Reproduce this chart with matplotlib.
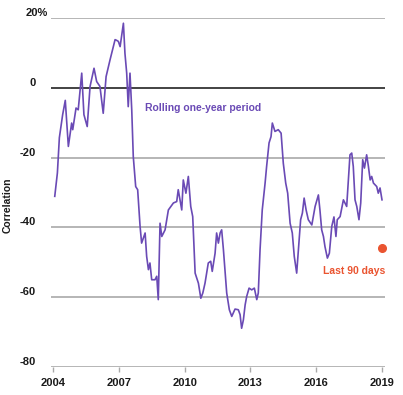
import matplotlib
matplotlib.use("Agg")
import matplotlib.pyplot as plt
from matplotlib.transforms import blended_transform_factory

plt.rcParams['font.family'] = ['Liberation Sans', 'DejaVu Sans']

# Rolling one-year correlation (%), decimal year vs value
years = [2004.08, 2004.20, 2004.29, 2004.44, 2004.56, 2004.70, 2004.85, 2004.90,
         2005.05, 2005.15, 2005.31, 2005.41, 2005.56, 2005.69, 2005.87, 2005.99,
         2006.14, 2006.29, 2006.42, 2006.60, 2006.75, 2006.83, 2006.90, 2006.98,
         2007.06, 2007.21, 2007.28, 2007.36, 2007.43, 2007.51, 2007.59, 2007.66,
         2007.77, 2007.86, 2007.97, 2008.04, 2008.20, 2008.27, 2008.35, 2008.42,
         2008.50, 2008.65, 2008.73, 2008.80, 2008.88, 2008.96, 2009.11, 2009.26,
         2009.49, 2009.64, 2009.71, 2009.87, 2009.94, 2010.06, 2010.17, 2010.28,
         2010.37, 2010.48, 2010.63, 2010.74, 2010.83, 2010.93, 2011.08, 2011.19,
         2011.26, 2011.39, 2011.46, 2011.54, 2011.62, 2011.69, 2011.77, 2011.92,
         2012.04, 2012.15, 2012.30, 2012.45, 2012.53, 2012.60, 2012.68, 2012.76,
         2012.83, 2012.94, 2013.06, 2013.18, 2013.29, 2013.36, 2013.44, 2013.54,
         2013.67, 2013.74, 2013.85, 2013.94, 2014.00, 2014.12, 2014.27, 2014.40,
         2014.50, 2014.61, 2014.70, 2014.81, 2014.91, 2015.00, 2015.11, 2015.22,
         2015.29, 2015.37, 2015.45, 2015.54, 2015.64, 2015.80, 2015.95, 2016.10,
         2016.17, 2016.25, 2016.33, 2016.40, 2016.51, 2016.60, 2016.71, 2016.81,
         2016.90, 2016.96, 2017.09, 2017.24, 2017.39, 2017.54, 2017.62, 2017.69,
         2017.77, 2017.85, 2017.95, 2018.03, 2018.12, 2018.20, 2018.30, 2018.38,
         2018.46, 2018.53, 2018.61, 2018.76, 2018.83, 2018.91, 2019.00]
values = [-31.1, -24.4, -14.3, -7.7, -3.6, -16.8, -10.1, -12.0,
          -5.8, -6.3, 4.2, -7.7, -11.1, 0.4, 5.6, 1.8,
          0.4, -7.3, 3.2, 8.0, 11.8, 13.8, 13.6, 13.3,
          11.8, 18.5, 9.9, 4.2, -5.4, 4.2, -6.3, -19.7,
          -28.3, -29.2, -39.7, -44.5, -41.6, -48.3, -52.1, -50.2,
          -55.0, -55.0, -54.0, -60.7, -38.8, -42.6, -40.7, -35.0,
          -33.0, -32.6, -29.2, -35.0, -26.4, -30.2, -25.4, -34.0,
          -36.9, -53.1, -56.0, -60.3, -58.8, -56.0, -50.2, -49.7,
          -52.6, -47.4, -41.6, -44.5, -41.6, -40.7, -46.4, -58.8,
          -63.6, -65.5, -63.4, -63.6, -65.0, -68.9, -66.5, -62.2,
          -59.8, -57.4, -57.9, -57.4, -60.7, -58.8, -46.4, -35.0,
          -27.3, -22.5, -15.8, -14.0, -10.1, -12.5, -12.0, -13.0,
          -21.6, -27.3, -30.2, -38.8, -41.6, -48.3, -53.1, -43.6,
          -37.8, -35.9, -31.6, -35.0, -37.8, -39.3, -34.0, -30.7,
          -35.0, -40.7, -42.6, -45.5, -48.8, -47.4, -39.7, -37.0,
          -42.6, -37.8, -36.9, -32.1, -34.0, -19.2, -18.7, -22.5,
          -32.1, -34.0, -37.8, -33.0, -20.6, -23.0, -19.2, -22.5,
          -26.4, -25.4, -27.3, -28.3, -30.2, -28.7, -32.1]

last90_year = 2019.0
last90_value = -46.0

xticks = [2004, 2007, 2010, 2013, 2016, 2019]
yticks = [-80, -60, -40, -20, 0, 20]
ytick_labels = ['-80', '-60', '-40', '-20', '0', '20%']

purple = '#6a4ab5'
red = '#ea5430'
grid_gray = '#a9a9a9'
text_col = '#1a1a1a'

fig = plt.figure(figsize=(4.03, 3.95), dpi=100)
ax = fig.add_axes([51/403, 1 - 367/395, (385 - 51)/403, (367 - 18)/395])
ax.set_xlim(2004 - 2/21.93, 2019 + 3/21.93)
ax.set_ylim(-80, 20)
for s in ax.spines.values():
    s.set_visible(False)

for v in yticks:
    if v == 0:
        ax.axhline(v, color='#222222', lw=1.2, zorder=1)
    else:
        ax.axhline(v, color=grid_gray, lw=1.2, zorder=1)

ax.plot(years, values, color=purple, lw=1.2, zorder=3, clip_on=False)
ax.plot([last90_year], [last90_value], 'o', color=red, ms=5.5, zorder=4, clip_on=False)

ax.set_yticks([])
ax.set_xticks(xticks)
ax.set_xticklabels([str(x) for x in xticks])
ax.tick_params(axis='x', direction='out', length=3.6, width=1.0, color=grid_gray,
               pad=4.5, labelsize=8, labelcolor=text_col)
for lab in ax.get_xticklabels():
    lab.set_fontweight('bold')

tr = blended_transform_factory(ax.transAxes, ax.transData)
for v, lab in zip(yticks, ytick_labels):
    if lab.endswith('%'):
        ax.text((48 - 51)/334, v + 0.6, lab, transform=tr, ha='right', va='baseline',
                fontsize=8, fontweight='bold', color=text_col)
    else:
        ax.text((36 - 51)/334, v + 0.6, lab, transform=tr, ha='right', va='baseline',
                fontsize=8, fontweight='bold', color=text_col)

fig.text(8/403, 1 - 205/395, 'Correlation', rotation=90, ha='center', va='center',
         fontsize=7.5, fontweight='bold', color=text_col)

ax.text(2008.195, -5.7, 'Rolling one-year period', ha='left', va='center',
        fontsize=7.5, fontweight='bold', color=purple)
ax.text(2019 + 3/21.93, -52.4, 'Last 90 days', ha='right', va='center',
        fontsize=7.5, fontweight='bold', color=red)

fig.savefig('out.png', dpi=100)
